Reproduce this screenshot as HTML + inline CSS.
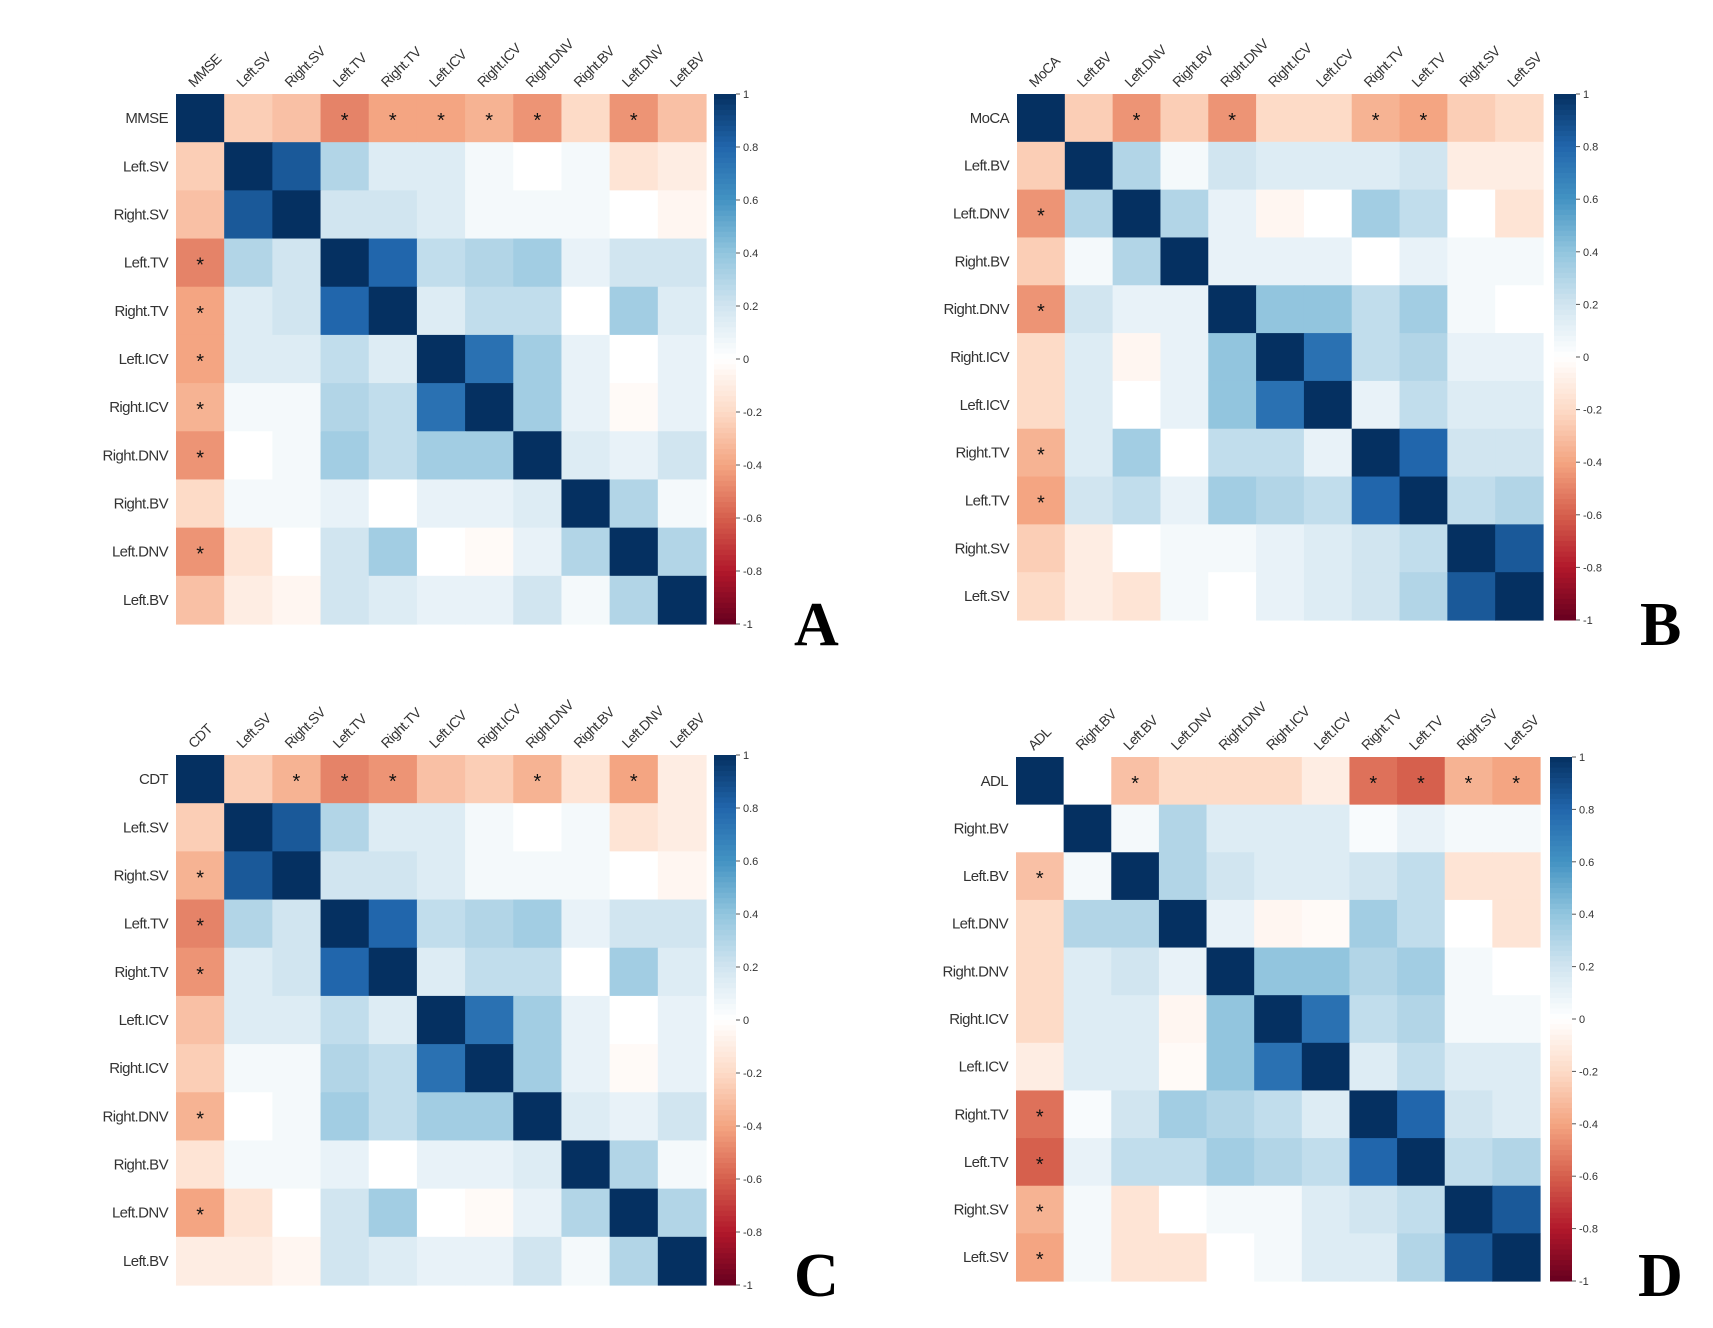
<!DOCTYPE html>
<html><head><meta charset="utf-8"><style>
body{margin:0;background:#fff;}
svg{display:block;font-family:"Liberation Sans",sans-serif;}
</style></head><body>
<svg id="fig" width="1713" height="1328" viewBox="0 0 1713 1328"></svg>
<script>
const labelsA = ["MMSE","Left.SV","Right.SV","Left.TV","Right.TV","Left.ICV","Right.ICV","Right.DNV","Right.BV","Left.DNV","Left.BV"];
const upperA = [
 [-0.25,-0.3,-0.5,-0.4,-0.4,-0.35,-0.45,-0.2,-0.45,-0.3],
 [0.85,0.3,0.15,0.15,0.05,0,0.05,-0.15,-0.1],
 [0.2,0.2,0.15,0.05,0.05,0.05,0,-0.05],
 [0.8,0.25,0.3,0.35,0.1,0.2,0.2],
 [0.15,0.25,0.25,0,0.35,0.15],
 [0.75,0.35,0.1,0,0.1],
 [0.35,0.1,-0.03,0.1],
 [0.15,0.1,0.2],
 [0.3,0.05],
 [0.3]
];
const starsA = [3,4,5,6,7,9];

const labelsB = ["MoCA","Left.BV","Left.DNV","Right.BV","Right.DNV","Right.ICV","Left.ICV","Right.TV","Left.TV","Right.SV","Left.SV"];
const upperB = [
 [-0.25,-0.45,-0.25,-0.45,-0.2,-0.2,-0.35,-0.4,-0.25,-0.2],
 [0.3,0.05,0.2,0.15,0.15,0.15,0.2,-0.1,-0.1],
 [0.3,0.1,-0.05,0,0.35,0.25,0,-0.15],
 [0.1,0.1,0.1,0,0.1,0.05,0.05],
 [0.4,0.4,0.25,0.35,0.05,0],
 [0.75,0.25,0.3,0.1,0.1],
 [0.1,0.25,0.15,0.15],
 [0.8,0.2,0.2],
 [0.25,0.3],
 [0.85]
];
const starsB = [2,4,7,8];

const labelsC = ["CDT","Left.SV","Right.SV","Left.TV","Right.TV","Left.ICV","Right.ICV","Right.DNV","Right.BV","Left.DNV","Left.BV"];
const upperC = [
 [-0.25,-0.35,-0.5,-0.45,-0.3,-0.25,-0.35,-0.15,-0.4,-0.1],
 [0.85,0.3,0.15,0.15,0.05,0,0.05,-0.15,-0.1],
 [0.2,0.2,0.15,0.05,0.05,0.05,0,-0.05],
 [0.8,0.25,0.3,0.35,0.1,0.2,0.2],
 [0.15,0.25,0.25,0,0.35,0.15],
 [0.75,0.35,0.1,0,0.1],
 [0.35,0.1,-0.03,0.1],
 [0.15,0.1,0.2],
 [0.3,0.05],
 [0.3]
];
const starsC = [2,3,4,7,9];

const labelsD = ["ADL","Right.BV","Left.BV","Left.DNV","Right.DNV","Right.ICV","Left.ICV","Right.TV","Left.TV","Right.SV","Left.SV"];
const upperD = [
 [0,-0.3,-0.2,-0.2,-0.2,-0.1,-0.55,-0.6,-0.35,-0.4],
 [0.05,0.3,0.15,0.15,0.15,0.03,0.1,0.05,0.05],
 [0.3,0.2,0.15,0.15,0.2,0.25,-0.15,-0.15],
 [0.1,-0.05,-0.03,0.35,0.25,0,-0.15],
 [0.4,0.4,0.3,0.35,0.05,0],
 [0.75,0.25,0.3,0.05,0.05],
 [0.15,0.25,0.15,0.15],
 [0.8,0.2,0.15],
 [0.25,0.3],
 [0.85]
];
const starsD = [2,7,8,9,10];

const cbTicks = [1,0.8,0.6,0.4,0.2,0,-0.2,-0.4,-0.6,-0.8,-1];

const stops = [[-1,"#67001F"],[-0.8,"#B2182B"],[-0.6,"#D6604D"],[-0.4,"#F4A582"],[-0.2,"#FDDBC7"],[0,"#FFFFFF"],[0.2,"#D1E5F0"],[0.4,"#92C5DE"],[0.6,"#4393C3"],[0.8,"#2166AC"],[1,"#053061"]];
function hx(h){return [1,3,5].map(i=>parseInt(h.substr(i,2),16));}
function color(v){
  v=Math.max(-1,Math.min(1,v));
  for(let i=0;i<stops.length-1;i++){
    if(v<=stops[i+1][0]){
      const t=(v-stops[i][0])/(stops[i+1][0]-stops[i][0]);
      const a=hx(stops[i][1]),b=hx(stops[i+1][1]);
      return "rgb("+a.map((c,k)=>Math.round(c+(b[k]-c)*t)).join(",")+")";
    }
  }
  return stops[stops.length-1][1];
}
const NS="http://www.w3.org/2000/svg";
const svg=document.getElementById("fig");
function mk(tag,attrs,parent,text){
  const e=document.createElementNS(NS,tag);
  for(const k in attrs)e.setAttribute(k,attrs[k]);
  if(text!==undefined)e.textContent=text;
  parent.appendChild(e);return e;
}
function matrixFrom(upper){
  const n=upper.length+1;const m=[];
  for(let i=0;i<n;i++){m.push([]);for(let j=0;j<n;j++)m[i].push(1);}
  for(let i=0;i<upper.length;i++)for(let k=0;k<upper[i].length;k++){const j=i+1+k;m[i][j]=upper[i][k];m[j][i]=upper[i][k];}
  return m;
}
function panel(id,labels,upper,stars,x0,y0,size,cbx,letter,lx,ly){
  const g=mk("g",{},svg);
  
  
  const m=matrixFrom(upper);const n=labels.length;const c=size/n;
  const xs=i=>x0+i*c, ys=i=>y0+i*c;
  for(let i=0;i<n;i++)for(let j=0;j<n;j++){
    const r=mk("rect",{x:xs(j),y:ys(i),width:c+0.6,height:c+0.6,fill:color(m[i][j])},g);
    
    
  }
  stars.forEach(j=>{
    [[0,j],[j,0]].forEach(([r,cc])=>{
      const s=mk("text",{x:xs(cc)+c/2,y:ys(r)+c/2+9,"text-anchor":"middle","font-size":"20",fill:"#111"},g,"*");
      
      
    });
  });
  labels.forEach((l,i)=>{
    const t=mk("text",{x:x0-8,y:ys(i)+c/2+5,"text-anchor":"end","font-size":"15",fill:"#333","letter-spacing":"-0.6"},g,l);
    
    
    const cx=xs(i)+c/2-6, cy=y0-6;
    const u=mk("text",{x:cx,y:cy,"font-size":"14",fill:"#333","letter-spacing":"-0.6",transform:"rotate(-45 "+cx+" "+cy+")"},g,l);
    
    
  });
  // colorbar
  const cb=mk("g",{},g);
  
  
  const N=100,h=size/N;
  for(let k=0;k<N;k++){
    const v=1-(k+0.5)/N*2;
    mk("rect",{x:cbx,y:y0+k*h,width:22,height:h+0.5,fill:color(v)},cb);
  }
  cbTicks.forEach(v=>{
    const y=y0+(1-v)/2*size;
    mk("line",{x1:cbx+22,x2:cbx+26,y1:y,y2:y,stroke:"#555","stroke-width":1},cb);
    const t=mk("text",{x:cbx+29,y:y+4,"font-size":"11",fill:"#333"},cb,String(v));
    
    
  });
  const L=mk("text",{x:lx,y:ly,"font-family":"Liberation Serif, serif","font-weight":"bold","font-size":"62",fill:"#000"},g,letter);
  
  
}
panel("a",labelsA,upperA,starsA,176,94,530,714,"A",794,645);
panel("b",labelsB,upperB,starsB,1017,94,526,1554,"B",1640,645);
panel("c",labelsC,upperC,starsC,176,755,530,714,"C",794,1296);
panel("d",labelsD,upperD,starsD,1016,757,524,1550,"D",1638,1296);
</script>
</body></html>
